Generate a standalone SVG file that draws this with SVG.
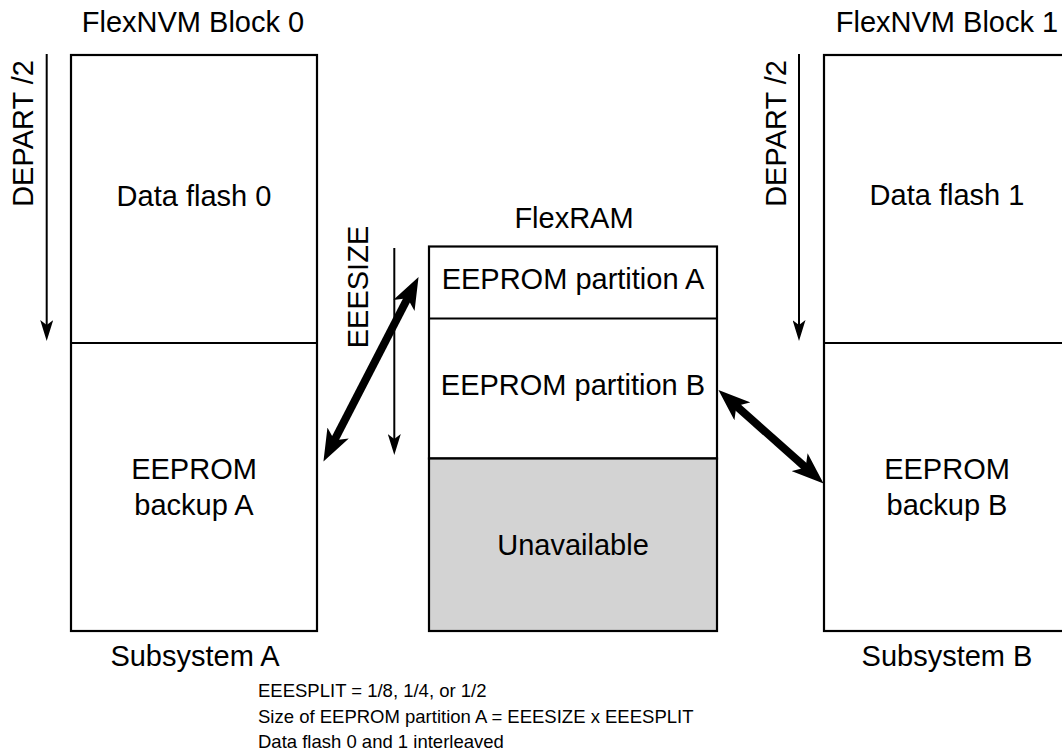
<svg xmlns="http://www.w3.org/2000/svg" width="1062" height="753" viewBox="0 0 1062 753">
  <style>
    .box { fill: #ffffff; stroke: #000000; stroke-width: 2.2; }
    .gray { fill: #d3d3d3; stroke: #000000; stroke-width: 2.2; }
    .div { stroke: #000000; stroke-width: 2.2; fill: none; }
    text { font-family: "Liberation Sans", Arial, Helvetica, sans-serif; fill: #000000; }
    .lbl { font-size: 29px; text-anchor: middle; }
    .note { font-size: 18.5px; }
    .thin { stroke: #000000; stroke-width: 2; fill: none; }
    .thick { stroke: #000000; stroke-width: 8; fill: none; }
  </style>
  <defs>
    <marker id="thinHead" markerUnits="userSpaceOnUse" viewBox="0 0 21 13" refX="6" refY="6.5" markerWidth="21" markerHeight="13" orient="auto">
      <path d="M0,0 L21,6.5 L0,13 L5,6.5 Z" fill="#000000"/>
    </marker>
    <marker id="thickHead" markerUnits="userSpaceOnUse" viewBox="0 0 32 24" refX="14" refY="12" markerWidth="32" markerHeight="24" orient="auto-start-reverse">
      <path d="M0,0 L32,12 L0,24 L8,12 Z" fill="#000000"/>
    </marker>
  </defs>

  <g id="block0">
    <text class="lbl" x="193" y="32">FlexNVM Block 0</text>
    <rect class="box" x="71" y="55" width="246" height="576"/>
    <line class="div" x1="71" y1="343" x2="317" y2="343"/>
    <text class="lbl" x="194" y="206">Data flash 0</text>
    <text class="lbl" x="194" y="479">EEPROM</text>
    <text class="lbl" x="194" y="515">backup A</text>
    <text class="lbl" x="195" y="666">Subsystem A</text>
  </g>

  <g id="block1">
    <text class="lbl" x="947" y="32">FlexNVM Block 1</text>
    <rect class="box" x="824" y="55" width="260" height="576"/>
    <line class="div" x1="824" y1="343" x2="1084" y2="343"/>
    <text class="lbl" x="947" y="205">Data flash 1</text>
    <text class="lbl" x="947" y="479">EEPROM</text>
    <text class="lbl" x="947" y="515">backup B</text>
    <text class="lbl" x="947" y="666">Subsystem B</text>
  </g>

  <g id="flexram">
    <text class="lbl" x="574" y="228">FlexRAM</text>
    <rect class="box" x="429" y="246.5" width="288" height="212"/>
    <rect class="gray" x="429" y="458.5" width="288" height="172.5"/>
    <line class="div" x1="429" y1="318.5" x2="717" y2="318.5"/>
    <text class="lbl" x="573" y="289">EEPROM partition A</text>
    <text class="lbl" x="573" y="395">EEPROM partition B</text>
    <text class="lbl" x="573" y="555">Unavailable</text>
  </g>

  <g id="dimensions">
    <text class="lbl" transform="translate(33,133.5) rotate(-90)">DEPART /2</text>
    <text class="lbl" transform="translate(786,133.5) rotate(-90)">DEPART /2</text>
    <text class="lbl" transform="translate(368,287) rotate(-90)">EEESIZE</text>
  </g>

  <g id="connectors">
    <line class="thin" x1="46.7" y1="54" x2="46.7" y2="326" marker-end="url(#thinHead)"/>
    <line class="thin" x1="799" y1="54" x2="799" y2="326" marker-end="url(#thinHead)"/>
    <line class="thin" x1="394.3" y1="248" x2="394.3" y2="440" marker-end="url(#thinHead)"/>
    <line class="thick" x1="331.7" y1="445.5" x2="410.3" y2="293" marker-start="url(#thickHead)" marker-end="url(#thickHead)"/>
    <line class="thick" x1="731.9" y1="402" x2="810.1" y2="471.5" marker-start="url(#thickHead)" marker-end="url(#thickHead)"/>
  </g>

  <g id="notes">
    <text class="note" x="258" y="697">EEESPLIT = 1/8, 1/4, or 1/2</text>
    <text class="note" x="258" y="722.5">Size of EEPROM partition A = EEESIZE x EEESPLIT</text>
    <text class="note" x="258" y="748">Data flash 0 and 1 interleaved</text>
  </g>
</svg>
